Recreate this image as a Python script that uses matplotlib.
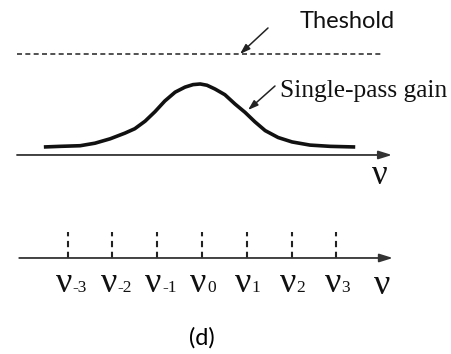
import matplotlib
matplotlib.use('Agg')
import matplotlib.pyplot as plt

# gain curve, x in units of mode spacing (nu - nu0) / dnu
gain_nu = [-3.53, -3.17, -2.72, -2.39, -2.05, -1.72, -1.50, -1.27, -1.05, -0.83,
           -0.60, -0.38, -0.20, -0.04, 0.11, 0.29, 0.51, 0.74, 0.96, 1.18,
           1.41, 1.70, 2.01, 2.41, 2.86, 3.42]
gain_val = [0.00, 0.01, 0.02, 0.06, 0.13, 0.22, 0.29, 0.41, 0.56, 0.73,
            0.87, 0.95, 0.99, 1.00, 0.98, 0.92, 0.83, 0.68, 0.55, 0.40,
            0.26, 0.15, 0.08, 0.03, 0.01, 0.00]
threshold = 1.476

mode_index = [-3, -2, -1, 0, 1, 2, 3]
mode_sub = ['-3', '-2', '-1', '0', '1', '2', '3']

# layout (same data units as above)
top_axis_y = -0.127
bot_axis_y = -1.762
mode_top = -1.349
label_y = -2.30

fig = plt.figure(figsize=(4.52, 3.54), dpi=100)
ax = fig.add_axes([0, 0, 1, 1])
ax.set_xlim(-4.509, 5.580)
ax.set_ylim(-3.286, 2.333)
ax.axis('off')

serif = 'Liberation Serif'
sans = 'Lato'
ink = '#111111'

# top panel
ax.plot([-4.13, 4.02], [threshold, threshold], color='#333333', lw=1.2,
        dashes=(3.0, 2.0))
ax.plot(gain_nu, gain_val, color=ink, lw=2.6, solid_capstyle='butt')
ax.annotate('', xy=(4.24, top_axis_y), xytext=(-4.13, top_axis_y),
            arrowprops=dict(arrowstyle='-|>,head_length=0.8,head_width=0.25',
                            color='#333333', lw=1.3, shrinkA=0, shrinkB=0))
ax.text(3.97, -0.59, 'ν', family=serif, fontsize=25, ha='center',
        va='baseline', color=ink)

ax.annotate('', xy=(0.848, threshold), xytext=(1.473, 1.889),
            arrowprops=dict(arrowstyle='-|>,head_length=0.6,head_width=0.2',
                            color='#222222', lw=1.1, shrinkA=0, shrinkB=0))
ax.text(2.19, 1.889, 'Theshold', family=sans, fontsize=17,
        ha='left', va='baseline', color=ink)

ax.annotate('', xy=(1.027, 0.587), xytext=(1.629, 0.968),
            arrowprops=dict(arrowstyle='-|>,head_length=0.6,head_width=0.2',
                            color='#222222', lw=1.1, shrinkA=0, shrinkB=0))
ax.text(1.74, 0.794, 'Single-pass gain', family=serif, fontsize=18.3,
        ha='left', va='baseline', color=ink)

# bottom panel: longitudinal modes
for m in mode_index:
    ax.plot([m, m], [bot_axis_y, mode_top], color='#222222', lw=1.5,
            dashes=(3.0, 2.2))
ax.annotate('', xy=(4.26, bot_axis_y), xytext=(-4.08, bot_axis_y),
            arrowprops=dict(arrowstyle='-|>,head_length=0.8,head_width=0.25',
                            color='#333333', lw=1.3, shrinkA=0, shrinkB=0))
for m, s in zip(mode_index, mode_sub):
    ax.text(m + 0.10, label_y, 'ν', family=serif, fontsize=26,
            ha='right', va='baseline', color=ink)
    ax.text(m + 0.11, label_y, s, family=serif, fontsize=12.5,
            ha='left', va='baseline', color=ink)
ax.text(4.02, label_y - 0.04, 'ν', family=serif, fontsize=26, ha='center',
        va='baseline', color=ink)

ax.text(0.0, -3.03, '(d)', family=sans, fontsize=17, ha='center', va='center')

fig.savefig('out.png', dpi=100, facecolor='white')
